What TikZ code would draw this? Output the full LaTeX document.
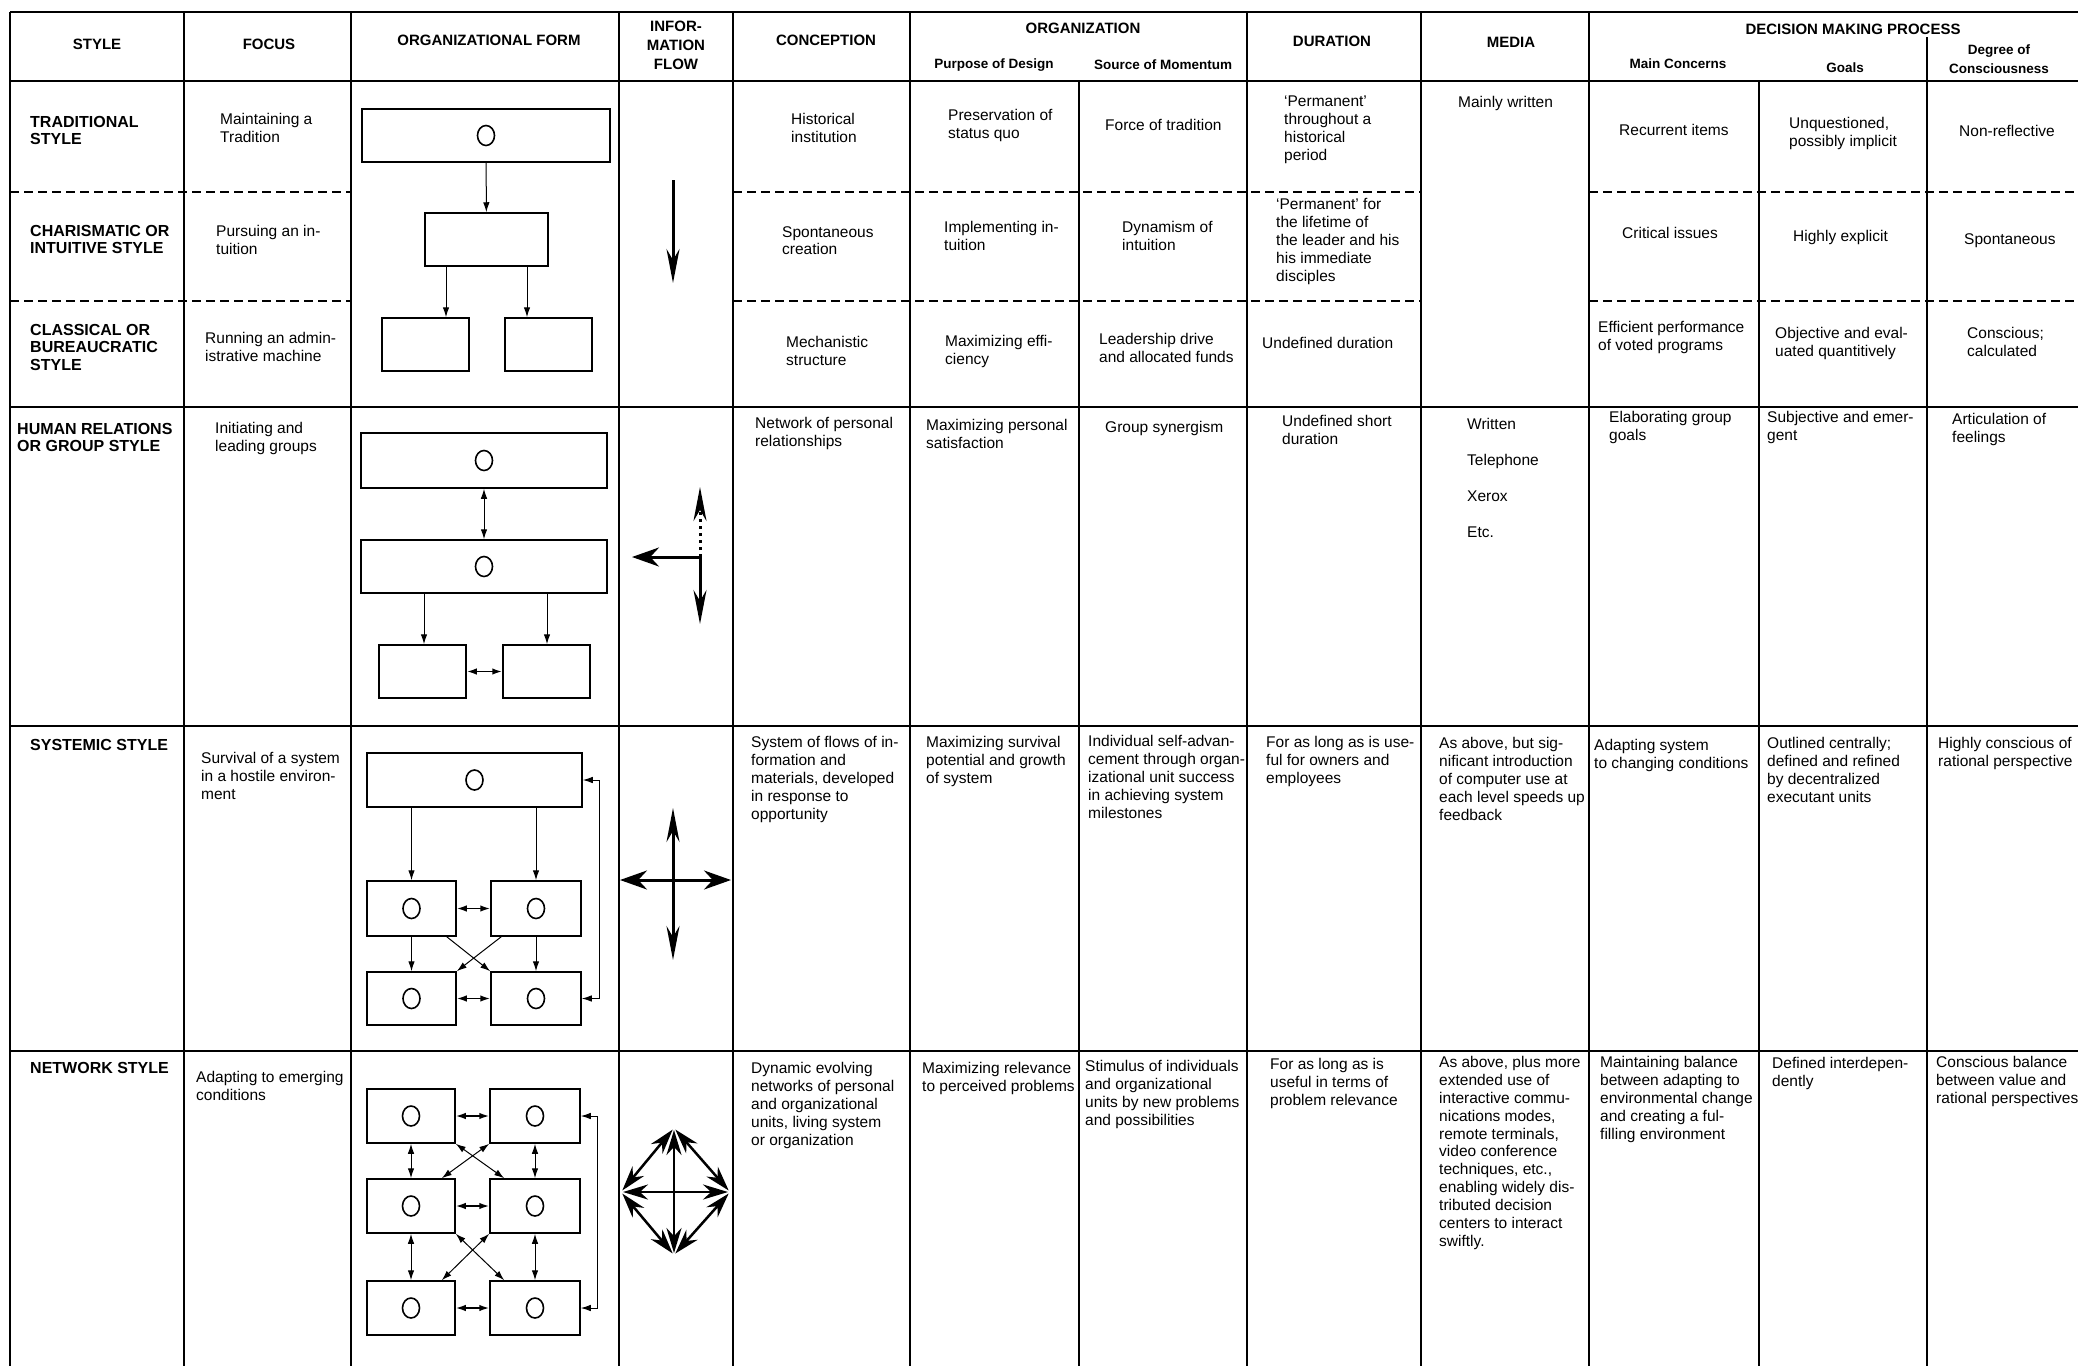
\documentclass[tikz,border=0pt]{standalone}
\usepackage{fontspec}
\setmainfont{Liberation Sans}
\usetikzlibrary{arrows.meta,positioning}

\newcommand{\cellfnt}{\fontsize{15.5}{17.9}\selectfont}
\newcommand{\lblfnt}{\fontsize{16}{17.5}\selectfont\bfseries}
\newcommand{\hdfnt}{\fontsize{15}{19}\selectfont\bfseries}
\newcommand{\subhdfnt}{\fontsize{13.5}{19}\selectfont\bfseries}

\tikzset{
  cell/.style={anchor=north west, inner sep=0pt, align=left, font=\cellfnt},
  stylename/.style={cell, font=\lblfnt},
  colhead/.style={inner sep=0pt, align=center, font=\hdfnt},
  subhead/.style={inner sep=0pt, align=center, font=\subhdfnt},
  thickrule/.style={line width=2.2pt},
  colrule/.style={line width=1.5pt},
  dashrule/.style={line width=1.8pt, dash pattern=on 9pt off 5pt},
  orgbox/.style={draw, line width=1.5pt, inner sep=0pt, minimum height=53pt},
  ring/.style={line width=1.6pt},
  link/.style={line width=1pt, -{Latex[length=10pt,width=6.5pt]}},
  link2/.style={line width=1pt, {Latex[length=10pt,width=6.5pt]}-{Latex[length=10pt,width=6.5pt]}},
  flow/.style={line width=3pt, -{Stealth[length=34pt,width=13pt]}},
  flowh/.style={line width=3pt, {Stealth[length=27pt,width=19pt]}-{Stealth[length=27pt,width=19pt]}},
  flowv/.style={line width=3pt, {Stealth[length=34pt,width=13pt]}-{Stealth[length=34pt,width=13pt]}},
  star/.style={line width=2.5pt, shorten <=2pt, shorten >=2pt, {Stealth[length=25pt,width=15pt]}-{Stealth[length=25pt,width=15pt]}},
}

\begin{document}
\begin{tikzpicture}[x=1pt, y=-1pt]
\useasboundingbox (0,0) rectangle (2078,1366);

% rules of the table
\foreach \y in {12,81,407,726,1051}
  \draw[thickrule] (10,\y) -- (2078,\y);
\foreach \x in {10,184,351,619,733,910,1247,1421,1589}
  \draw[colrule] (\x,12) -- (\x,1366);
\foreach \x in {1079,1759}
  \draw[colrule] (\x,81) -- (\x,1366);
\draw[colrule] (1927,37) -- (1927,1366);
\foreach \y in {192,301} {
  \draw[dashrule] (10,\y) -- (351,\y);
  \draw[dashrule] (733,\y) -- (1421,\y);
  \draw[dashrule] (1589,\y) -- (2078,\y);
}

% headings
\node[colhead] (hStyle) at (97,44) {STYLE};
\node[colhead] (hFocus) at (269,44) {FOCUS};
\node[colhead] (hForm) at (489,40) {ORGANIZATIONAL FORM};
\node[colhead] (hFlow) at (676,45) {INFOR-\\MATION\\FLOW};
\node[colhead] (hConception) at (826,40) {CONCEPTION};
\node[colhead] (hOrganization) at (1083,28) {ORGANIZATION};
\node[subhead] (hPurpose) at (994,65) {Purpose of Design};
\node[subhead] (hMomentum) at (1163,65) {Source of Momentum};
\node[colhead] (hDuration) at (1332,41) {DURATION};
\node[colhead] (hMedia) at (1511,42) {MEDIA};
\node[colhead] (hDecision) at (1853,29) {DECISION MAKING PROCESS};
\node[subhead] (hConcerns) at (1678,64) {Main Concerns};
\node[subhead] (hGoals) at (1845,68) {Goals};
\node[subhead] (hDegree) at (1999,59) {Degree of\\Consciousness};

% style names
\node[stylename] (sTrad) at (30,116) {TRADITIONAL\\STYLE};
\node[stylename] (sChar) at (30,225) {CHARISMATIC OR\\INTUITIVE STYLE};
\node[stylename] (sClass) at (30,324) {CLASSICAL OR\\BUREAUCRATIC\\STYLE};
\node[stylename] (sHuman) at (17,423) {HUMAN RELATIONS\\OR GROUP STYLE};
\node[stylename] (sSys) at (30,739) {SYSTEMIC STYLE};
\node[stylename] (sNet) at (30,1062) {NETWORK STYLE};

% focus
\node[cell] (fTrad) at (220,113) {Maintaining a\\Tradition};
\node[cell] (fChar) at (216,225) {Pursuing an in-\\tuition};
\node[cell] (fClass) at (205,332) {Running an admin-\\istrative machine};
\node[cell] (fHuman) at (215,422) {Initiating and\\leading groups};
\node[cell] (fSys) at (201,752) {Survival of a system\\in a hostile environ-\\ment};
\node[cell] (fNet) at (196,1071) {Adapting to emerging\\conditions};

% conception
\node[cell] (cTrad) at (791,113) {Historical\\institution};
\node[cell] (cChar) at (782,226) {Spontaneous\\creation};
\node[cell] (cClass) at (786,336) {Mechanistic\\structure};
\node[cell] (cHuman) at (755,417) {Network of personal\\relationships};
\node[cell] (cSys) at (751,736) {System of flows of in-\\formation and\\materials, developed\\in response to\\opportunity};
\node[cell] (cNet) at (751,1062) {Dynamic evolving\\networks of personal\\and organizational\\units, living system\\or organization};

% purpose of design
\node[cell] (pTrad) at (948,109) {Preservation of\\status quo};
\node[cell] (pChar) at (944,221) {Implementing in-\\tuition};
\node[cell] (pClass) at (945,335) {Maximizing effi-\\ciency};
\node[cell] (pHuman) at (926,419) {Maximizing personal\\satisfaction};
\node[cell] (pSys) at (926,736) {Maximizing survival\\potential and growth\\of system};
\node[cell] (pNet) at (922,1062) {Maximizing relevance\\to perceived problems};

% source of momentum
\node[cell] (mTrad) at (1105,119) {Force of tradition};
\node[cell] (mChar) at (1122,221) {Dynamism of\\intuition};
\node[cell] (mClass) at (1099,333) {Leadership drive\\and allocated funds};
\node[cell] (mHuman) at (1105,421) {Group synergism};
\node[cell] (mSys) at (1088,735) {Individual self-advan-\\cement through organ-\\izational unit success\\in achieving system\\milestones};
\node[cell] (mNet) at (1085,1060) {Stimulus of individuals\\and organizational\\units by new problems\\and possibilities};

% duration
\node[cell] (dTrad) at (1284,96) {‘Permanent’\\throughout a\\historical\\period};
\node[cell] (dChar) at (1276,198) {‘Permanent’ for\\the lifetime of\\the leader and his\\his immediate\\disciples};
\node[cell] (dClass) at (1262,337) {Undefined duration};
\node[cell] (dHuman) at (1282,415) {Undefined short\\duration};
\node[cell] (dSys) at (1266,736) {For as long as is use-\\ful for owners and\\employees};
\node[cell] (dNet) at (1270,1058) {For as long as is\\useful in terms of\\problem relevance};

% media
\node[cell] (eTrad) at (1458,96) {Mainly written};
\node[cell] (eHuman) at (1467,418) {Written\\[18pt]Telephone\\[18pt]Xerox\\[18pt]Etc.};
\node[cell] (eSys) at (1439,737) {As above, but sig-\\nificant introduction\\of computer use at\\each level speeds up\\feedback};
\node[cell] (eNet) at (1439,1056) {As above, plus more\\extended use of\\interactive commu-\\nications modes,\\remote terminals,\\video conference\\techniques, etc.,\\enabling widely dis-\\tributed decision\\centers to interact\\swiftly.};

% main concerns
\node[cell] (kTrad) at (1619,124) {Recurrent items};
\node[cell] (kChar) at (1622,227) {Critical issues};
\node[cell] (kClass) at (1598,321) {Efficient performance\\of voted programs};
\node[cell] (kHuman) at (1609,411) {Elaborating group\\goals};
\node[cell] (kSys) at (1594,739) {Adapting system\\to changing conditions};
\node[cell] (kNet) at (1600,1056) {Maintaining balance\\between adapting to\\environmental change\\and creating a ful-\\filling environment};

% goals
\node[cell] (gTrad) at (1789,117) {Unquestioned,\\possibly implicit};
\node[cell] (gChar) at (1793,230) {Highly explicit};
\node[cell] (gClass) at (1775,327) {Objective and eval-\\uated quantitively};
\node[cell] (gHuman) at (1767,411) {Subjective and emer-\\gent};
\node[cell] (gSys) at (1767,737) {Outlined centrally;\\defined and refined\\by decentralized\\executant units};
\node[cell] (gNet) at (1772,1057) {Defined interdepen-\\dently};

% degree of consciousness
\node[cell] (qTrad) at (1959,125) {Non-reflective};
\node[cell] (qChar) at (1964,233) {Spontaneous};
\node[cell] (qClass) at (1967,327) {Conscious;\\calculated};
\node[cell] (qHuman) at (1952,413) {Articulation of\\feelings};
\node[cell] (qSys) at (1938,737) {Highly conscious of\\rational perspective};
\node[cell] (qNet) at (1936,1056) {Conscious balance\\between value and\\rational perspectives};

% organizational form: traditional / charismatic / classical
\node[orgbox, minimum width=248pt] (t1) at (486,135.5) {};
\node[orgbox, minimum width=123pt] (t2) at (486.5,239.5) {};
\node[orgbox, minimum width=87pt] (t3) at (425.5,344.5) {};
\node[orgbox, minimum width=87pt] (t4) at (548.5,344.5) {};
\draw[ring] (t1.center) ellipse (8.5pt and 10pt);
\draw[link] (t1) -- (t2);
\draw[link] ([xshift=-40.5pt]t2.south) -- ([xshift=-40.5pt]t2.south |- t3.north);
\draw[link] ([xshift=40.5pt]t2.south) -- ([xshift=40.5pt]t2.south |- t4.north);

% organizational form: human relations
\node[orgbox, minimum width=246pt, minimum height=55pt] (h1) at (484,460.5) {};
\node[orgbox, minimum width=246pt] (h2) at (484,566.5) {};
\node[orgbox, minimum width=87pt] (h3) at (422.5,671.5) {};
\node[orgbox, minimum width=87pt] (h4) at (546.5,671.5) {};
\foreach \b in {h1,h2}
  \draw[ring] (\b.center) ellipse (8.5pt and 10pt);
\draw[link2] (h1) -- (h2);
\draw[link] ([xshift=-60pt]h2.south) -- ([xshift=-60pt]h2.south |- h3.north);
\draw[link] ([xshift=63pt]h2.south) -- ([xshift=63pt]h2.south |- h4.north);
\draw[link2, line width=1.8pt] (h3) -- (h4);

% organizational form: systemic
\node[orgbox, minimum width=215pt, minimum height=54pt] (s0) at (474.5,780) {};
\node[orgbox, minimum width=89pt, minimum height=55pt] (s1) at (411.5,908.5) {};
\node[orgbox, minimum width=90pt, minimum height=55pt] (s2) at (536,908.5) {};
\node[orgbox, minimum width=89pt] (s3) at (411.5,998.5) {};
\node[orgbox, minimum width=90pt] (s4) at (536,998.5) {};
\foreach \b in {s0,s1,s2,s3,s4}
  \draw[ring] (\b.center) ellipse (8.5pt and 10pt);
\draw[link] (s1.north |- s0.south) -- (s1.north);
\draw[link] (s2.north |- s0.south) -- (s2.north);
\draw[link2, line width=1.6pt] (s1) -- (s2);
\draw[link] (s1) -- (s3);
\draw[link] (s2) -- (s4);
\draw[link] ([xshift=-10pt]s1.south east) -- (s4.north west);
\draw[link] ([xshift=11pt]s2.south west) -- (s3.north east);
\draw[link2, line width=1.6pt] (s3) -- (s4);
\draw[link2] (s4.east) -- ++(18pt,0) |- (s0.east);

% organizational form: network
\node[orgbox, minimum width=88pt, minimum height=54pt] (n1) at (411,1116) {};
\node[orgbox, minimum width=90pt, minimum height=54pt] (n2) at (535,1116) {};
\node[orgbox, minimum width=88pt, minimum height=54pt] (n3) at (411,1206) {};
\node[orgbox, minimum width=90pt, minimum height=54pt] (n4) at (535,1206) {};
\node[orgbox, minimum width=88pt, minimum height=54pt] (n5) at (411,1308) {};
\node[orgbox, minimum width=90pt, minimum height=54pt] (n6) at (535,1308) {};
\foreach \b in {n1,n2,n3,n4,n5,n6}
  \draw[ring] (\b.center) ellipse (8.5pt and 10pt);
\draw[link2, line width=1.6pt] (n1) -- (n2);
\draw[link2, line width=1.6pt] (n3) -- (n4);
\draw[link2, line width=1.6pt] (n5) -- (n6);
\draw[link2] (n1) -- (n3);
\draw[link2] (n3) -- (n5);
\draw[link2] (n2) -- (n4);
\draw[link2] (n4) -- (n6);
\draw[link2] (n1.south east) -- ([xshift=15pt]n4.north west);
\draw[link2] (n2.south west) -- ([xshift=-14pt]n3.north east);
\draw[link2] (n3.south east) -- ([xshift=15pt]n6.north west);
\draw[link2] (n4.south west) -- ([xshift=-14pt]n5.north east);
\draw[link2] (n2.east) -- ++(17pt,0) |- (n6.east);

% information flow
\coordinate (fa) at (673,180);
\coordinate (fb) at (673,283);
\draw[flow] (fa) -- (fb);

\coordinate (hj) at (700,557);
\coordinate (hu) at (700,487);
\coordinate (hd) at (700,624);
\coordinate (hl) at (632,557);
\draw[flow] (hj) -- (hd);
\draw[flow, {Stealth[length=27pt,width=19pt]}-] (hl) -- (hj);
\draw[flow, dash pattern=on 3pt off 4pt] (hj) -- (hu);

\coordinate (sl) at (620,880);
\coordinate (sr) at (731,880);
\coordinate (st) at (673,808);
\coordinate (sb) at (673,960);
\draw[flowh] (sl) -- (sr);
\draw[flowv] (st) -- (sb);

\coordinate (nt) at (674,1128);
\coordinate (nb) at (674,1255);
\coordinate (nl) at (621,1192);
\coordinate (nr) at (730,1192);
\draw[star] (nl) -- (nr);
\draw[star] (nt) -- (nb);
\draw[star] (nt) -- (nl);
\draw[star] (nl) -- (nb);
\draw[star] (nb) -- (nr);
\draw[star] (nr) -- (nt);
\end{tikzpicture}
\end{document}
